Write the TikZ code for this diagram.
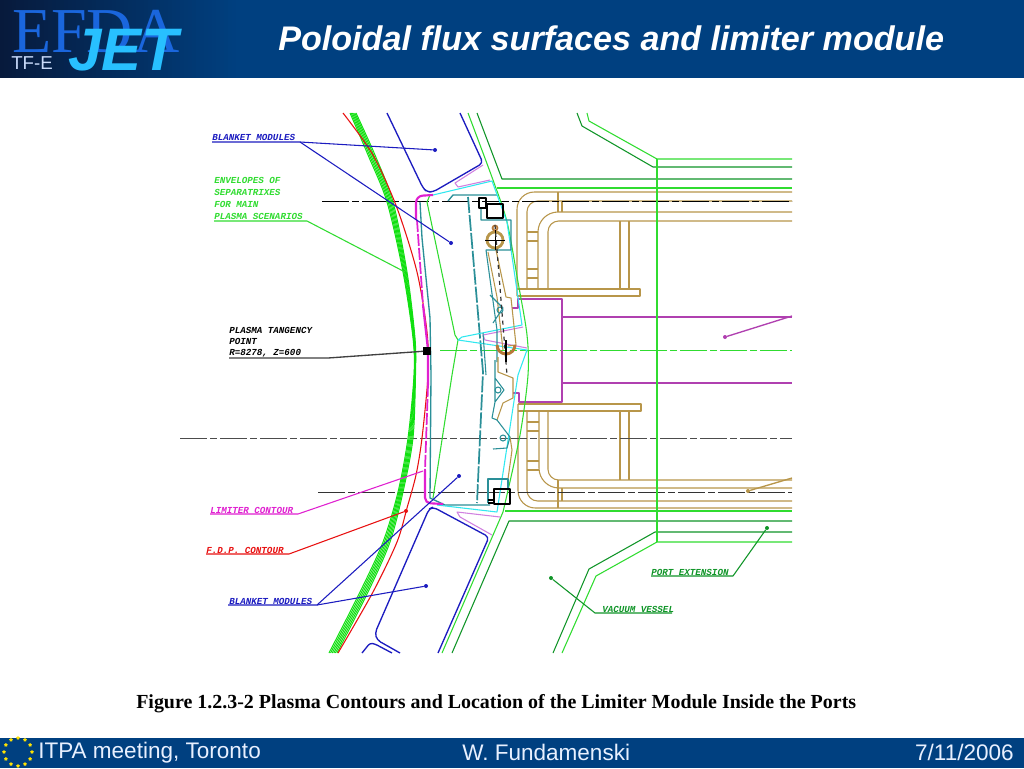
\documentclass[tikz,border=0pt]{standalone}
\usepackage{fontspec}
\usetikzlibrary{shapes.geometric}
\setmainfont{Liberation Sans}
\newfontfamily\serifFont{Liberation Serif}
\newfontfamily\cadFont{Liberation Mono}
\definecolor{barBlue}{HTML}{004080}
\definecolor{logoDark}{HTML}{071A3C}
\definecolor{logoBlue}{HTML}{1A66DD}
\definecolor{logoCyan}{HTML}{28C0FF}
\definecolor{footText}{HTML}{E8F0FF}
\definecolor{cadBlue}{HTML}{1C1CC0}
\definecolor{cadGreen}{HTML}{30DC30}
\definecolor{cadBright}{HTML}{10E010}
\definecolor{cadDark}{HTML}{109528}
\definecolor{cadTeal}{HTML}{2A8F98}
\definecolor{cadCyan}{HTML}{30E8F0}
\definecolor{cadTan}{HTML}{B8964A}
\definecolor{cadBrown}{HTML}{B87838}
\definecolor{cadPurple}{HTML}{B040B0}
\definecolor{cadPink}{HTML}{D080E0}
\definecolor{cadMagenta}{HTML}{E020D0}
\definecolor{cadRed}{HTML}{E81010}
\begin{document}
\begin{tikzpicture}
        [x=0.75pt, y=-0.75pt,
        cadLine/.style={line width=0.8pt, line join=round},
        tanLine/.style={cadLine, cadTan, rounded corners=#1},
        centerLine/.style={line width=0.75pt, dash pattern=on 20pt off 2.5pt on 5pt off 2.5pt},
        cadLabel/.style={font=\cadFont\bfseries\itshape\fontsize{6.9pt}{8pt}\selectfont, anchor=west, inner sep=0pt},
        tipDot/.style={circle, fill, inner sep=0pt, minimum size=3pt},
        footLabel/.style={font=\fontsize{16.9pt}{19pt}\selectfont, text=footText, inner sep=0pt},
        euStar/.style={star, star points=5, fill=yellow!85!orange, inner sep=0pt, minimum size=3pt}]
        \useasboundingbox (0,0) rectangle (1024,768);
        \fill[white] (0,0) rectangle (1024,768);

        % title bar and footer
        \fill[barBlue] (0,0) rectangle (1024,78);
        \foreach \s in {0,...,59} {
            \pgfmathsetmacro{\mixVal}{\s*100/59}
            \fill[barBlue!\mixVal!logoDark] ({\s*4},0) rectangle ({\s*4+4.5},78);
        }
        \fill[barBlue] (0,738) rectangle (1024,768);
        \node[font=\serifFont\fontsize{48pt}{50pt}\selectfont, text=logoBlue, anchor=base west, inner sep=0pt] (logoEfda) at (12,52) {EFDA};
        \node[font=\bfseries\itshape\fontsize{45pt}{50pt}\selectfont, text=logoCyan, anchor=base west, inner sep=0pt] (logoJet) at (68,70) {JET};
        \node[font=\fontsize{14pt}{16pt}\selectfont, text=footText!85!logoBlue, anchor=base west, inner sep=0pt] (logoTask) at (11,69) {TF-E};
        \node[font=\bfseries\itshape\fontsize{25.6pt}{30pt}\selectfont, text=white, anchor=base west, inner sep=0pt] (title) at (278,50) {Poloidal flux surfaces and limiter module};
        \foreach \a in {0,30,...,330}
            \node[euStar] (star\a) at ({18+14*cos(\a)},{752+14*sin(\a)}) {};
        \node[footLabel, anchor=base west] (footMeeting) at (38,758) {ITPA meeting, Toronto};
        \node[footLabel, anchor=base west] (footAuthor) at (462,760) {W. Fundamenski};
        \node[footLabel, anchor=base east] (footDate) at (1014,760) {7/11/2006};
        \node[font=\serifFont\bfseries\fontsize{14.96pt}{17pt}\selectfont, anchor=base west, inner sep=0pt] (caption) at (136,708) {Figure 1.2.3-2 Plasma Contours and Location of the Limiter Module Inside the Ports};

        % port structure, top half
        \draw[tanLine=13pt] (792,192) -- (517,192) -- (517,296);
        \draw[cadLine, cadTan] (517,296) -- (640,296) -- (640,289) -- (517,289);
        \draw[tanLine=8pt] (792,201) -- (527,201) -- (527,289);
        \draw[tanLine=15pt] (792,212) -- (538,212) -- (538,289);
        \draw[tanLine=8pt] (792,221) -- (548,221) -- (548,289);
        \draw[cadLine, cadTan] (558,192) -- (558,212) (562,201) -- (562,212);
        \draw[cadLine, cadTan] (620,221) -- (620,289) (629,221) -- (629,289);
        \foreach \y in {232,241,269,278}
            \draw[cadLine, cadTan] (527,\y) -- (538,\y);
        % port structure, bottom half
        \draw[tanLine=13pt] (792,508) -- (518,508) -- (518,404);
        \draw[cadLine, cadTan] (518,404) -- (641,404) -- (641,411) -- (518,411);
        \draw[tanLine=8pt] (792,501) -- (527,501) -- (527,411);
        \draw[tanLine=15pt] (792,488) -- (539,488) -- (539,411);
        \draw[tanLine=8pt] (792,480) -- (548,480) -- (548,411);
        \draw[cadLine, cadTan] (558,480) -- (558,508) (562,488) -- (562,501);
        \draw[cadLine, cadTan] (620,411) -- (620,480) (629,411) -- (629,480);
        \foreach \y in {422,431,461,470}
            \draw[cadLine, cadTan] (527,\y) -- (539,\y);

        % centre lines
        \coordinate (lineAL) at (322,201); \coordinate (lineAR) at (792,201);
        \coordinate (lineBL) at (440,350); \coordinate (lineBR) at (792,350);
        \coordinate (lineCL) at (180,438); \coordinate (lineCR) at (792,438);
        \coordinate (lineDL) at (318,492); \coordinate (lineDR) at (792,492);
        \draw[centerLine, black] (lineAL) -- (lineAR);
        \draw[centerLine, cadGreen] (lineBL) -- (lineBR);
        \draw[centerLine, black!70] (lineCL) -- (lineCR);
        \draw[centerLine, black!80] (lineDL) -- (lineDR);

        % purple port opening
        \draw[cadLine, cadPurple] (512,308) -- (518,308) -- (518,299) -- (562,299) -- (562,402) -- (519,402) -- (519,393) -- (513,393);
        \draw[cadLine, cadPurple] (562,317) -- (792,317) (562,383) -- (792,383);

        % vessel and port extension
        \draw[cadLine, cadDark] (477,113) -- (502,179) -- (792,179);
        \draw[cadLine, cadDark] (792,521) -- (509,521) -- (452,653);
        \draw[cadLine, cadGreen] plot[smooth] coordinates {(468,113) (493,180) (507,222) (518,282) (527,335) (528,375) (520,435) (503,512)};
        \draw[cadLine, cadGreen] (503,512) -- (442,653);
        \draw[cadLine, cadGreen] (497,188) -- (792,188) (505,511) -- (792,511);
        \draw[cadLine, cadDark] (577,113) -- (582,126) -- (653,167) -- (792,167);
        \draw[cadLine, cadGreen] (587,113) -- (589,121) -- (657,159) -- (792,159);
        \draw[cadLine, cadDark] (792,532) -- (655,532) -- (589,569) -- (553,653);
        \draw[cadLine, cadGreen] (792,542) -- (657,542) -- (596,576) -- (562,653);
        \draw[cadLine, cadGreen] (657,159) -- (657,542);

        % blanket modules
        \draw[cadLine, cadBlue, line width=1pt, rounded corners=3pt] (387,113) -- (423,188) -- (427,192) -- (433,192) -- (483,163) -- (460,113);
        \draw[cadLine, cadBlue, line width=1pt, rounded corners=3pt] (438,653) -- (489,537) -- (433,507) -- (429,509) -- (375,633) -- (377,640) -- (400,653);
        \draw[cadLine, cadBlue, line width=1pt, rounded corners=2pt] (362,653) -- (370,643) -- (375,644) -- (392,653);

        % plasma envelopes
        \foreach \d in {0,0.2,...,1}
            \draw[line width=0.75pt, cadBright] plot[smooth] coordinates {({350+6*\d},113) ({368+7*\d},155) ({387+6*\d},202) ({403+4*\d},272) ({413+2*\d},338) ({414+1.5*\d},375) ({408+5*\d},438) ({398+5*\d},492) ({383+7*\d},542) ({360+8*\d},592) ({329+8*\d},653)};
        \draw[cadLine, cadRed] plot[smooth] coordinates {(343,113) (373,155) (397,208) (417,272) (427,332) (428,375) (422,438) (416,475) (407,508) (397,542) (373,592) (338,653)};

        % first wall and limiter
        \draw[cadLine, cadTeal, line width=1pt] (448,201) -- (453,195) -- (497,195);
        \draw[cadLine, cadTeal, line width=1pt] (420,202) -- (422,238) -- (430,318) -- (431,375) -- (430,498) -- (445,505) -- (490,505);
        \draw[cadTeal, line width=1.3pt, dash pattern=on 12pt off 1.5pt] (468,197) -- (483,372) -- (477,503);
        \draw[cadLine, cadGreen] (430,195) -- (427,202) -- (455,335) -- (458,340) -- (452,375) -- (433,498);
        \draw[cadLine, cadCyan] (433,195) -- (492,181) -- (507,222) -- (522,325) -- (462,337) -- (458,340) -- (527,350) -- (518,375) -- (497,512) -- (437,505);
        \draw[cadLine, cadPink] (483,165) -- (455,183) -- (458,187) -- (490,180);
        \draw[cadLine, cadPink] (523,327) -- (483,335) -- (485,340) -- (527,348);
        \draw[cadLine, cadPink] (500,517) -- (457,512) -- (460,517) -- (492,535);
        \draw[cadMagenta, line width=1.6pt, rounded corners=5pt] (433,195) -- (416,196) -- (416,220);
        \draw[cadMagenta, line width=1.3pt, dash pattern=on 9pt off 1.5pt] (417,220) -- (423,305);
        \draw[cadMagenta, line width=1.6pt] (423,305) -- (428,350) -- (428,385);
        \draw[cadMagenta, line width=1.3pt, dash pattern=on 9pt off 1.5pt] (428,385) -- (425,470);
        \draw[cadMagenta, line width=1.6pt, rounded corners=4pt] (425,470) -- (425,503) -- (443,504);

        % limiter module inside, top
        \draw[cadLine, cadTeal] (481,208) -- (481,220) -- (511,220) -- (511,250) -- (486,250) -- (497,330) -- (497,362);
        \draw[cadLine, cadTan] (488,252) -- (497,297) -- (503,350) (496,250) -- (506,297) -- (511,298) -- (516,345) -- (508,346);
        \draw[cadLine, cadTeal] (483,333) -- (486,375) (490,295) -- (503,308) -- (493,323);
        \draw[cadLine, cadTeal] (500,310) circle[radius=3];
        \draw[line width=2.1pt, cadTan] (495,240) circle[radius=8];
        \draw[cadBrown, line width=1.3pt] (495,228) circle[radius=2.5];
        \draw[cadLine, black] (479,198) rectangle (486,208) (487,204) rectangle (503,218);
        \draw[line width=0.6pt, black] (485,240) -- (505,240) (495,230) -- (495,250);
        \draw[line width=0.9pt, black!80, dashed] (495,225) -- (507,375);
        % limiter module inside, centre and bottom
        \draw[cadBrown, line width=2.2pt] (497,345) arc[start angle=180, end angle=0, radius=9];
        \draw[cadLine, cadTan] (498,357) -- (498,372) -- (513,378) -- (513,398) -- (503,403) -- (497,420) (510,437) -- (512,450) -- (508,479);
        \draw[cadLine, black] (506,340) -- (506,362);
        \draw[cadLine, cadTeal] (495,360) -- (495,378) -- (504,390) -- (495,402) -- (495,378) (495,402) -- (492,418) -- (497,420) -- (510,437) -- (507,448) -- (493,449);
        \draw[cadLine, cadTeal] (498,390) circle[radius=3] (503,438) circle[radius=3];
        \draw[cadLine, cadTeal] (488,503) -- (488,479) -- (508,479) -- (508,489);
        \draw[cadLine, black] (494,489) rectangle (510,504) (488,500) -- (493,500) (488,503) -- (493,503);

        % labels and leaders
        \node[cadLabel, text=cadBlue] (blanketTop) at (212,137) {BLANKET MODULES};
        \node[cadLabel, text=cadGreen] (envelopeA) at (214,180) {ENVELOPES OF};
        \node[cadLabel, text=cadGreen] (envelopeB) at (214,192) {SEPARATRIXES};
        \node[cadLabel, text=cadGreen] (envelopeC) at (214,204) {FOR MAIN};
        \node[cadLabel, text=cadGreen] (envelopeD) at (214,216) {PLASMA SCENARIOS};
        \node[cadLabel] (tangencyA) at (229,330) {PLASMA TANGENCY};
        \node[cadLabel] (tangencyB) at (229,341) {POINT};
        \node[cadLabel] (tangencyC) at (229,353) {R=8278, Z=600};
        \node[cadLabel, text=cadMagenta] (limiter) at (210,510) {LIMITER CONTOUR};
        \node[cadLabel, text=cadRed] (fdp) at (206,550) {F.D.P. CONTOUR};
        \node[cadLabel, text=cadBlue] (blanketBot) at (229,601) {BLANKET MODULES};
        \node[cadLabel, text=cadDark] (portExt) at (651,572) {PORT EXTENSION};
        \node[cadLabel, text=cadDark] (vessel) at (602,609) {VACUUM VESSEL};

        \coordinate (blanketTopS) at (212,142); \coordinate (blanketTopK) at (300,142);
        \node[tipDot, cadBlue] (blanketTipA) at (435,150) {};
        \node[tipDot, cadBlue] (blanketTipB) at (451,243) {};
        \draw[cadLine, cadBlue] (blanketTopS) -- (blanketTopK) -- (blanketTipA);
        \draw[cadLine, cadBlue] (blanketTopK) -- (blanketTipB);

        \coordinate (envelopeS) at (214,221); \coordinate (envelopeK) at (307,221);
        \coordinate (envelopeTip) at (405,272);
        \draw[cadLine, cadGreen] (envelopeS) -- (envelopeK) -- (envelopeTip);

        \coordinate (tangencyS) at (229,358); \coordinate (tangencyK) at (328,358);
        \node[rectangle, fill=black, inner sep=0pt, minimum size=5.5pt] (tangencyMark) at (427,351) {};
        \draw[line width=1pt, black!75] (tangencyS) -- (tangencyK) -- (tangencyMark);

        \coordinate (limiterS) at (210,514); \coordinate (limiterK) at (298,514);
        \coordinate (limiterTip) at (423,471);
        \draw[cadLine, cadMagenta] (limiterS) -- (limiterK) -- (limiterTip);

        \coordinate (fdpS) at (206,554); \coordinate (fdpK) at (289,554);
        \node[tipDot, cadRed] (fdpTip) at (406,511) {};
        \draw[cadLine, cadRed] (fdpS) -- (fdpK) -- (fdpTip);

        \coordinate (blanketBotS) at (228,605); \coordinate (blanketBotK) at (317,605);
        \node[tipDot, cadBlue] (blanketTipC) at (459,476) {};
        \node[tipDot, cadBlue] (blanketTipD) at (426,586) {};
        \draw[cadLine, cadBlue] (blanketBotS) -- (blanketBotK) -- (blanketTipC);
        \draw[cadLine, cadBlue] (blanketBotK) -- (blanketTipD);

        \coordinate (portExtS) at (651,576); \coordinate (portExtK) at (733,576);
        \node[tipDot, cadDark] (portExtTip) at (767,528) {};
        \draw[cadLine, cadDark] (portExtS) -- (portExtK) -- (portExtTip);

        \coordinate (vesselS) at (672,613); \coordinate (vesselK) at (595,613);
        \node[tipDot, cadDark] (vesselTip) at (551,578) {};
        \draw[cadLine, cadDark] (vesselS) -- (vesselK) -- (vesselTip);

        \node[tipDot, cadPurple] (purpleTip) at (725,337) {};
        \coordinate (purpleEnd) at (792,316);
        \draw[line width=1pt, cadPurple] (purpleTip) -- (purpleEnd);
        \node[tipDot, cadTan] (tanTip) at (748,491) {};
        \coordinate (tanEnd) at (792,478);
        \draw[line width=1pt, cadTan] (tanTip) -- (tanEnd);
    \end{tikzpicture}
\end{document}
